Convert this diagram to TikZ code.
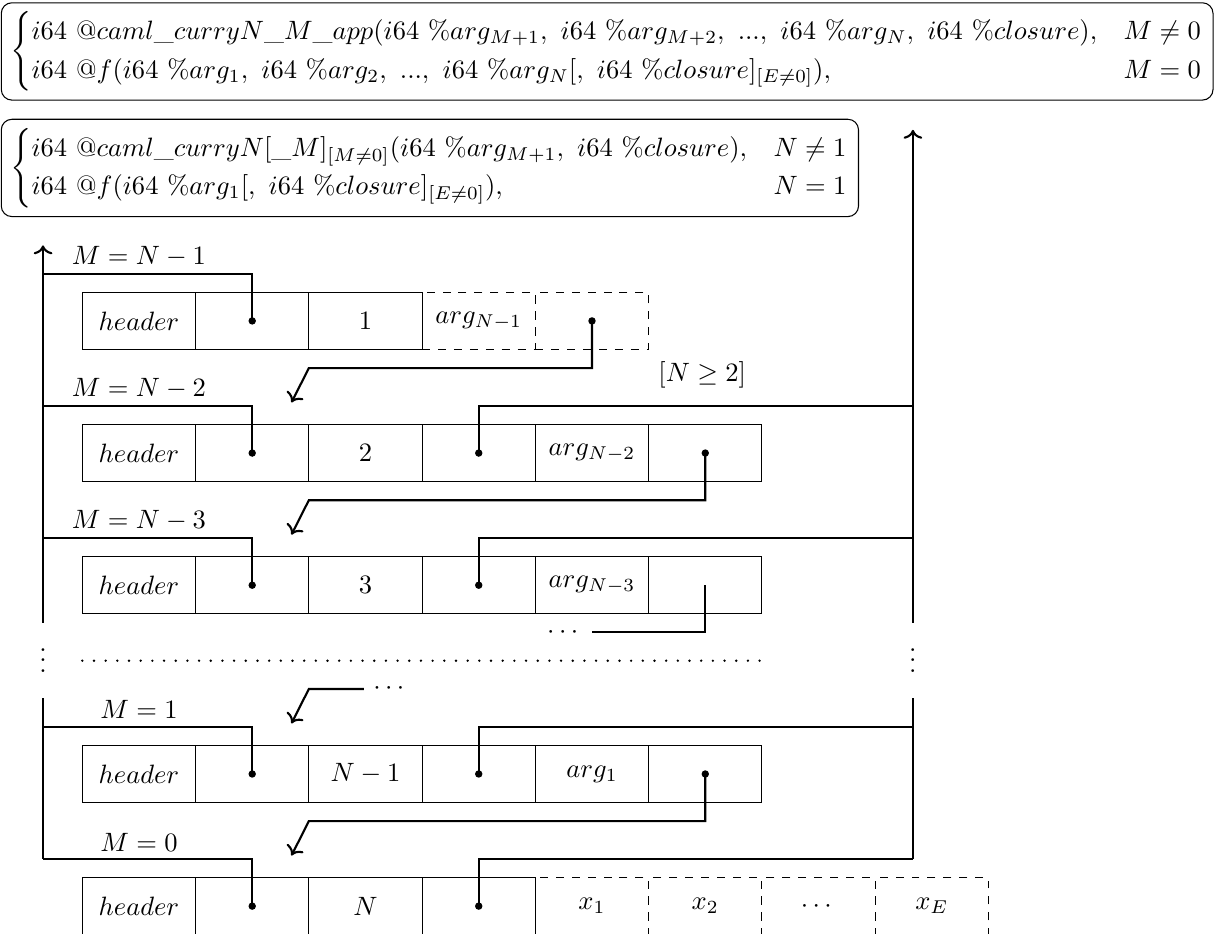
\documentclass[tikz,border=0pt]{standalone}
\usepackage{amsmath, amssymb}
\usetikzlibrary{positioning, arrows.meta}

\begin{document}
\begin{tikzpicture}[
    cell/.style={draw, minimum width=1.5cm, minimum height=0.75cm, inner sep=0pt},
    optcell/.style={cell, dashed},
    formula/.style={draw, rounded corners},
    link/.style={thick},
    ptr/.style={fill=black},
    dotrow/.style={line width=1pt, line cap=round, dash pattern=on 0pt off 4.4pt}
]
\useasboundingbox (0,0) rectangle (16.17,-12.365);

% Function signatures
\node[formula, anchor=north west] (app) at (0.01,-0.03) {$\begin{cases}
i64\ @caml\_curryN\_M\_app(i64\ \%arg_{M+1},\ i64\ \%arg_{M+2},\ ...,\ i64\ \%arg_N,\ i64\ \%closure), & M \neq 0\\
i64\ @f(i64\ \%arg_1,\ i64\ \%arg_2,\ ...,\ i64\ \%arg_N[,\ i64\ \%closure]_{[E\neq0]}), & M = 0
\end{cases}$};
\node[formula, below right=0.24cm and 0cm of app.south west] (curry) {$\begin{cases}
i64\ @caml\_curryN[\_M]_{[M\neq0]}(i64\ \%arg_{M+1},\ i64\ \%closure), & N \neq 1\\
i64\ @f(i64\ \%arg_1[,\ i64\ \%closure]_{[E\neq0]}), & N = 1
\end{cases}$};

% Row 1: M = N-1
\node (lab1) at (1.84,-3.40) {$M=N-1$};
\node[cell] (r1c1) at (1.84,-4.25) {$header$};
\node[cell] (r1c2) at (3.34,-4.25) {};
\node[cell] (r1c3) at (4.84,-4.25) {$1$};
\node[optcell] (r1c4) at (6.34,-4.25) {$arg_{N-1}$};
\node[optcell] (r1c5) at (7.84,-4.25) {};
\node (cond) at (9.3,-4.96) {$[N\geq2]$};

% Row 2: M = N-2
\node (lab2) at (1.84,-5.15) {$M=N-2$};
\node[cell] (r2c1) at (1.84,-6.0) {$header$};
\node[cell] (r2c2) at (3.34,-6.0) {};
\node[cell] (r2c3) at (4.84,-6.0) {$2$};
\node[cell] (r2c4) at (6.34,-6.0) {};
\node[cell] (r2c5) at (7.84,-6.0) {$arg_{N-2}$};
\node[cell] (r2c6) at (9.34,-6.0) {};

% Row 3: M = N-3
\node (lab3) at (1.84,-6.90) {$M=N-3$};
\node[cell] (r3c1) at (1.84,-7.75) {$header$};
\node[cell] (r3c2) at (3.34,-7.75) {};
\node[cell] (r3c3) at (4.84,-7.75) {$3$};
\node[cell] (r3c4) at (6.34,-7.75) {};
\node[cell] (r3c5) at (7.84,-7.75) {$arg_{N-3}$};
\node[cell] (r3c6) at (9.34,-7.75) {};

% Row 4: M = 1
\node (lab4) at (1.84,-9.40) {$M=1$};
\node[cell] (r4c1) at (1.84,-10.25) {$header$};
\node[cell] (r4c2) at (3.34,-10.25) {};
\node[cell] (r4c3) at (4.84,-10.25) {$N-1$};
\node[cell] (r4c4) at (6.34,-10.25) {};
\node[cell] (r4c5) at (7.84,-10.25) {$arg_1$};
\node[cell] (r4c6) at (9.34,-10.25) {};

% Row 5: M = 0
\node (lab5) at (1.84,-11.15) {$M=0$};
\node[cell] (r5c1) at (1.84,-12.0) {$header$};
\node[cell] (r5c2) at (3.34,-12.0) {};
\node[cell] (r5c3) at (4.84,-12.0) {$N$};
\node[cell] (r5c4) at (6.34,-12.0) {};
\node[optcell] (r5c5) at (7.84,-12.0) {$x_1$};
\node[optcell] (r5c6) at (9.34,-12.0) {$x_2$};
\node[optcell] (r5c7) at (10.84,-12.0) {$\cdots$};
\node[optcell] (r5c8) at (12.34,-12.0) {$x_E$};

% Bus lines
\coordinate (ltop) at (0.57,-3.25);
\coordinate (lcut1) at (0.57,-8.25);
\coordinate (lcut2) at (0.57,-9.25);
\coordinate (rtop) at (12.09,-1.72);
\coordinate (rcut1) at (12.09,-8.25);
\coordinate (rcut2) at (12.09,-9.25);
\coordinate (l1) at (0.57,-3.625);
\coordinate (l2) at (0.57,-5.375);
\coordinate (l3) at (0.57,-7.125);
\coordinate (l4) at (0.57,-9.625);
\coordinate (l5) at (0.57,-11.375);
\coordinate (q2) at (12.09,-5.375);
\coordinate (q3) at (12.09,-7.125);
\coordinate (q4) at (12.09,-9.625);
\coordinate (q5) at (12.09,-11.375);

\draw[link, ->] (lcut1) -- (ltop);
\draw[link] (l5) -- (lcut2);
\draw[link, ->] (rcut1) -- (rtop);
\draw[link] (q5) -- (rcut2);

\draw[link] (r1c2.center) |- (l1);
\draw[link] (r2c2.center) |- (l2);
\draw[link] (r3c2.center) |- (l3);
\draw[link] (r4c2.center) |- (l4);
\draw[link] (r5c2.center) |- (l5);
\draw[link] (r2c4.center) |- (q2);
\draw[link] (r3c4.center) |- (q3);
\draw[link] (r4c4.center) |- (q4);
\draw[link] (r5c4.center) |- (q5);

% Closure chain
\coordinate (t1) at (4.09,-4.875);
\coordinate (h1) at (3.86,-5.33);
\coordinate (t2) at (4.09,-6.625);
\coordinate (h2) at (3.86,-7.08);
\coordinate (e3) at (7.84,-8.375);
\coordinate (s4) at (4.82,-9.125);
\coordinate (t4) at (4.09,-9.125);
\coordinate (h4) at (3.86,-9.58);
\coordinate (t5) at (4.09,-10.875);
\coordinate (h5) at (3.86,-11.33);

\draw[link, ->] (r1c5.center) |- (t1) -- (h1);
\draw[link, ->] (r2c6.center) |- (t2) -- (h2);
\draw[link] (r3c6.center) |- (e3);
\node[left] (more3) at (e3) {$\cdots$};
\draw[link, ->] (s4) -- (t4) -- (h4);
\node[right] (more4) at (s4) {$\cdots$};
\draw[link, ->] (r4c6.center) |- (t5) -- (h5);

% Pointer dots
\fill[ptr] (r1c2) circle (1.4pt);
\fill[ptr] (r1c5) circle (1.4pt);
\fill[ptr] (r2c2) circle (1.4pt);
\fill[ptr] (r2c4) circle (1.4pt);
\fill[ptr] (r2c6) circle (1.4pt);
\fill[ptr] (r3c2) circle (1.4pt);
\fill[ptr] (r3c4) circle (1.4pt);
\fill[ptr] (r4c2) circle (1.4pt);
\fill[ptr] (r4c4) circle (1.4pt);
\fill[ptr] (r4c6) circle (1.4pt);
\fill[ptr] (r5c2) circle (1.4pt);
\fill[ptr] (r5c4) circle (1.4pt);

% Omitted rows
\coordinate (g1) at (1.09,-8.75);
\coordinate (g2) at (10.09,-8.75);
\draw[dotrow] (g1) -- (g2);
\node (lvd) at (0.57,-8.64) {$\vdots$};
\node (rvd) at (12.09,-8.64) {$\vdots$};
\end{tikzpicture}
\end{document}
